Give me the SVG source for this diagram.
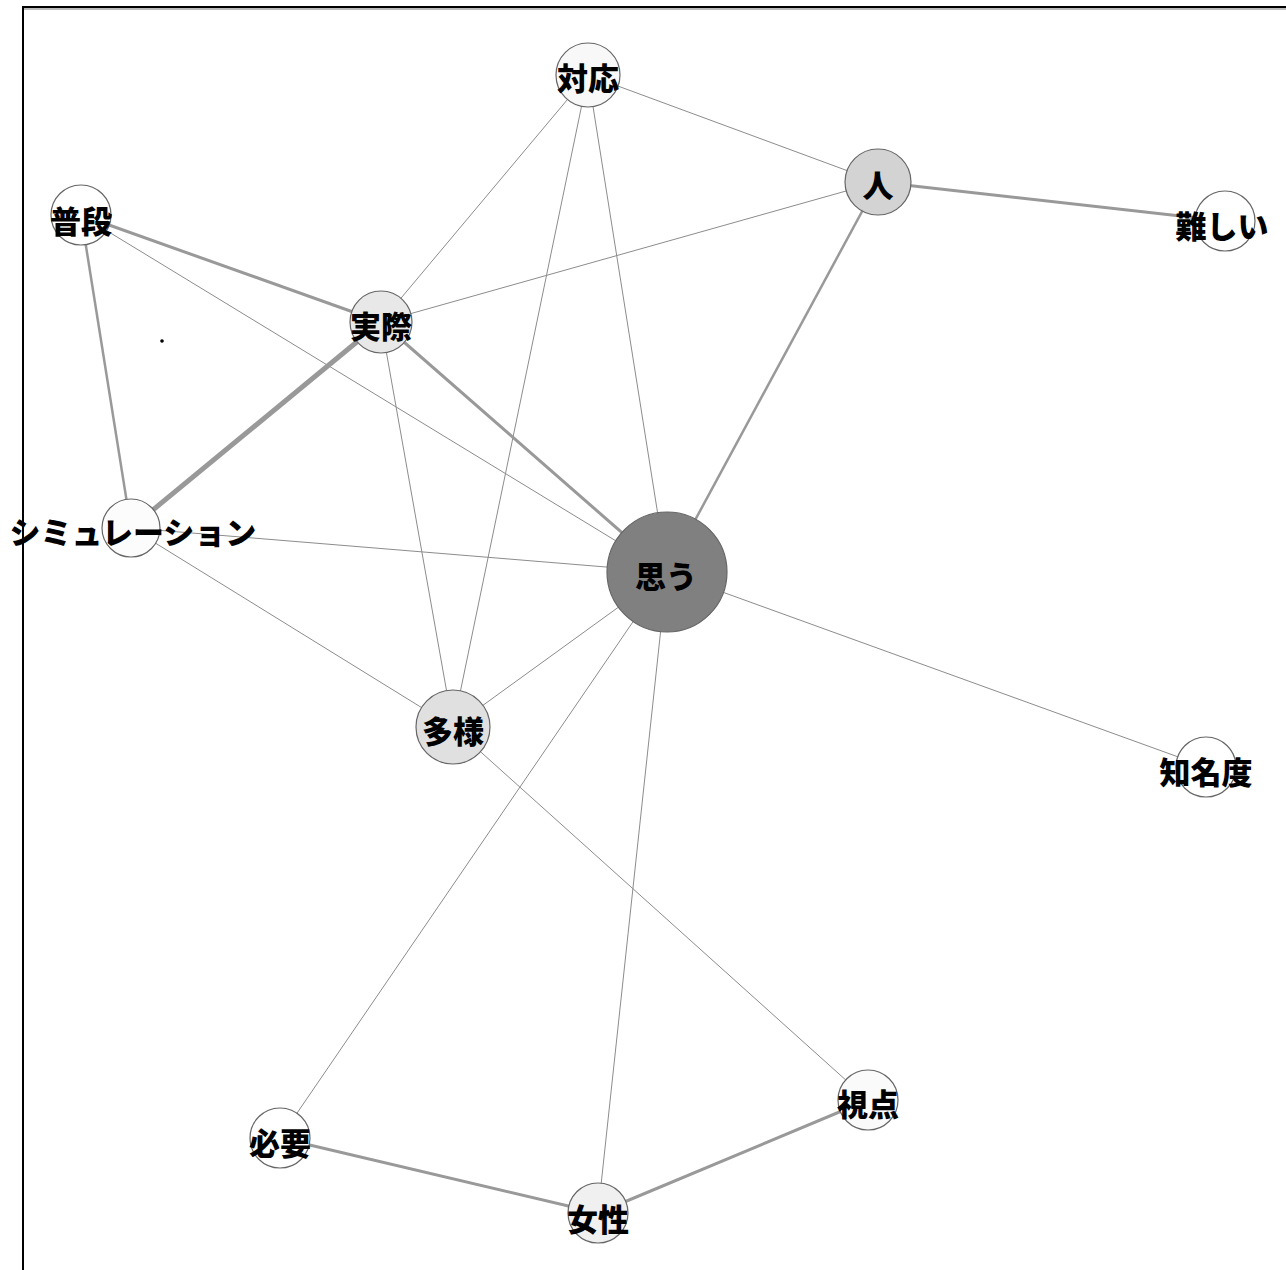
<svg xmlns="http://www.w3.org/2000/svg" width="1286" height="1270" viewBox="0 0 1286 1270">
<style>
.frame{fill:#ffffff;stroke:#000000;stroke-width:2}
.e{stroke:#8c8c8c;stroke-width:1;fill:none}
.e2{stroke:#999999;stroke-width:2.5;fill:none}
.e3{stroke:#999999;stroke-width:3;fill:none}
.e5{stroke:#999999;stroke-width:5;fill:none}
.n circle{stroke:#666666;stroke-width:1.2}
.n text{font-family:"Noto Sans CJK JP","Noto Sans CJK SC",sans-serif;font-weight:900;font-size:31px;fill:#000000;text-anchor:middle;dominant-baseline:central}
</style>
<rect x="0" y="0" width="1286" height="1270" fill="#ffffff"/>
<rect class="frame" x="23" y="7" width="1266" height="1275"/>
<line x1="24" y1="9" x2="1286" y2="9" stroke="#bbbbbb" stroke-width="2"/>
<circle cx="162" cy="341" r="1.8" fill="#000000"/>
<g id="edges">
<line class="e" x1="588" y1="75" x2="878" y2="182"/>
<line class="e" x1="588" y1="75" x2="381" y2="322"/>
<line class="e" x1="588" y1="75" x2="453" y2="727"/>
<line class="e" x1="588" y1="75" x2="667" y2="572"/>
<line class="e3" x1="878" y1="182" x2="1225" y2="221"/>
<line class="e" x1="878" y1="182" x2="381" y2="322"/>
<line class="e2" x1="878" y1="182" x2="667" y2="572"/>
<line class="e3" x1="81" y1="215" x2="381" y2="322"/>
<line class="e2" x1="81" y1="215" x2="131" y2="528"/>
<line class="e" x1="81" y1="215" x2="667" y2="572"/>
<line class="e5" x1="381" y1="322" x2="131" y2="528"/>
<line class="e3" x1="381" y1="322" x2="667" y2="572"/>
<line class="e" x1="381" y1="322" x2="453" y2="727"/>
<line class="e" x1="131" y1="528" x2="667" y2="572"/>
<line class="e" x1="131" y1="528" x2="453" y2="727"/>
<line class="e" x1="667" y1="572" x2="453" y2="727"/>
<line class="e" x1="667" y1="572" x2="1206" y2="767"/>
<line class="e" x1="667" y1="572" x2="280" y2="1138"/>
<line class="e" x1="667" y1="572" x2="598" y2="1213"/>
<line class="e" x1="453" y1="727" x2="868" y2="1100"/>
<line class="e3" x1="280" y1="1138" x2="598" y2="1213"/>
<line class="e3" x1="598" y1="1213" x2="868" y2="1100"/>
</g>
<g id="node-taiou" class="n"><circle cx="588" cy="75" r="32" fill="#f8f8f8"/><text x="588" y="76">対応</text></g>
<g id="node-hito" class="n"><circle cx="878" cy="182" r="33" fill="#d3d3d3"/><text x="878" y="183">人</text></g>
<g id="node-muzukashii" class="n"><circle cx="1225" cy="221" r="30" fill="#ffffff"/><text x="1222" y="224">難しい</text></g>
<g id="node-fudan" class="n"><circle cx="81" cy="215" r="30" fill="#ffffff"/><text x="81" y="219">普段</text></g>
<g id="node-jissai" class="n"><circle cx="381" cy="322" r="31" fill="#e8e8e8"/><text x="381" y="324">実際</text></g>
<g id="node-simulation" class="n"><circle cx="131" cy="528" r="29" fill="#fcfcfc"/><text x="133" y="530">シミュレーション</text></g>
<g id="node-omou" class="n"><circle cx="667" cy="572" r="60" fill="#808080"/><text x="666" y="574">思う</text></g>
<g id="node-tayou" class="n"><circle cx="453" cy="727" r="37" fill="#e0e0e0"/><text x="453" y="729">多様</text></g>
<g id="node-chimeido" class="n"><circle cx="1206" cy="767" r="30" fill="#ffffff"/><text x="1206" y="770">知名度</text></g>
<g id="node-shiten" class="n"><circle cx="868" cy="1100" r="30" fill="#fafafa"/><text x="868" y="1102">視点</text></g>
<g id="node-hitsuyou" class="n"><circle cx="280" cy="1138" r="30" fill="#ffffff"/><text x="280" y="1141">必要</text></g>
<g id="node-josei" class="n"><circle cx="598" cy="1213" r="30" fill="#f0f0f0"/><text x="598" y="1217">女性</text></g>
</svg>
